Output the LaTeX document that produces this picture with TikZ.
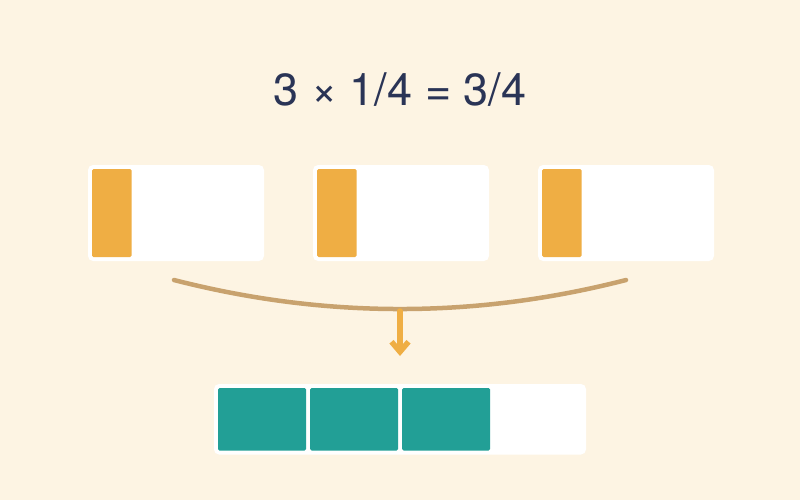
\documentclass[tikz,border=0pt]{standalone}
\usepackage{fontspec}
\setmainfont{TeX Gyre Heros}
\usepackage{tikz}
\usetikzlibrary{arrows.meta}

\definecolor{cream}{HTML}{FDF4E3}
\definecolor{ink}{HTML}{2A3456}
\definecolor{amber}{HTML}{EFAE44}
\definecolor{teal}{HTML}{229F96}
\definecolor{brace}{HTML}{C8A26E}

\tikzset{
	bar/.style={fill=white, rounded corners=5pt, inner sep=0pt},
	part/.style={fill=#1, rounded corners=1.5pt, inner sep=0pt, anchor=north west},
}

\begin{document}
\begin{tikzpicture}[x=1pt, y=-1pt]
	\fill[cream] (0, 0) rectangle (800, 500);

	\node[text=ink, font=\fontsize{45}{52}\selectfont] (title) at (400, 90) {3 × 1/4 = 3/4};

	% three quarters
	\foreach \i in {0, 1, 2} {
		\node[bar, minimum width=176pt, minimum height=96pt] (bar\i) at (176 + 225*\i, 213) {};
		\foreach \k in {0, 1, 2, 3}
			\node[part=white, minimum width=40.5pt, minimum height=88pt] (cell\i\k) at ([shift={(4 + 42*\k, 4)}]bar\i.north west) {};
		\node[part=amber, minimum width=39.5pt, minimum height=88pt] (fill\i) at ([shift={(4, 4)}]bar\i.north west) {};
	}

	% result
	\node[bar, minimum width=372pt, minimum height=70.5pt] (sum) at (400, 419.25) {};
	\foreach \k/\c in {0/teal, 1/teal, 2/teal, 3/white}
		\node[part=\c, minimum width=88pt, minimum height=62.5pt] (res\k) at ([shift={(4 + 92*\k, 4)}]sum.north west) {};

	\coordinate (cl) at (174, 280);
	\coordinate (cr) at (626, 280);
	\coordinate (mid) at (400, 311);
	\coordinate (tip) at (400, 356);
	\draw[draw=brace, line width=4.5pt, line cap=round] (cl) .. controls (324.7, 318.7) and (475.3, 318.7) .. (cr);
	\draw[draw=amber, line width=5.5pt, line cap=round, line join=round,
		-{Straight Barb[length=10pt, width=17pt]}] (mid) -- (tip);
\end{tikzpicture}
\end{document}
